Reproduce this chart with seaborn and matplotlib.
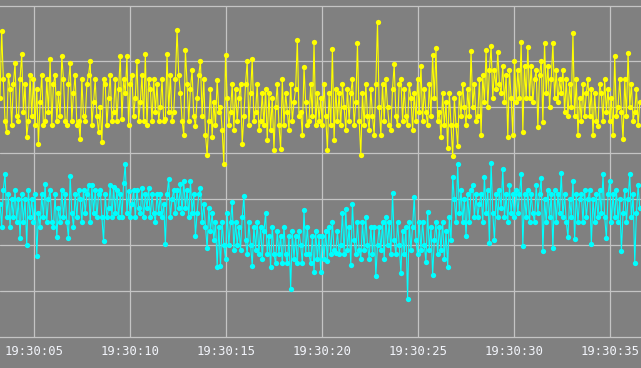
"""Two noisy sensor traces (yellow / cyan) on a gray scope-style panel."""

import pandas as pd
import matplotlib
import matplotlib.pyplot as plt
import matplotlib.dates as mdates
import seaborn as sns

matplotlib.use("Agg")

# --- data (one sample every 87 ms) -----------------------------------------
START = "2024-01-01 19:30:03.230"
STEP = "87ms"

yellow = [
    52, 66.6, 56, 47, 44.5, 57, 54, 46, 55, 59.5, 48, 47,
    56, 61.5, 49, 55, 43.5, 47, 57, 48, 56, 46, 54, 42,
    51, 57, 46, 47, 56, 49, 60.5, 46, 55, 57, 47, 53,
    48, 61, 56, 47, 46, 55, 59.5, 47, 53, 57, 46, 47,
    43, 56, 48, 47, 55, 57, 60, 46, 51, 56, 48, 44.5,
    50, 42.5, 56, 55, 46, 52, 57, 47, 49, 56, 47, 54,
    61, 47.3, 56, 53, 61, 46, 55, 57, 48, 52, 60, 47,
    51, 57, 47, 61.5, 46, 56, 54, 47, 56, 49, 55, 47,
    50, 56, 47, 47.5, 61.5, 49, 57, 47, 49, 56, 66.7, 57,
    53, 47, 44, 62.4, 55, 47, 54, 58, 48, 45.8, 52, 57,
    60, 48, 56, 44, 39.6, 47, 54, 43.5, 51, 46, 55.9, 49,
    50, 45, 37.6, 61.3, 52, 46, 49, 55, 45, 54, 47, 52,
    55, 42, 48, 55, 60, 46, 53, 60.5, 47, 49, 55, 45,
    47, 53, 46, 54, 42.8, 53, 45, 52, 40.7, 50, 55, 46,
    40.9, 56, 46, 53, 49, 45, 55, 47, 51, 54, 64.6, 48,
    49, 44, 58.7, 51, 46, 47, 55, 48, 64.1, 46, 53, 47,
    52, 46, 55, 48, 40.7, 53, 46, 62.6, 42.8, 54, 47, 53,
    46, 55, 50, 45, 54, 47, 53, 56, 46, 51, 63.9, 47,
    39.6, 53, 46, 55, 48, 45, 54, 48, 44, 55, 68.5, 50,
    43.9, 55, 47, 56, 50, 46, 45, 54, 59.3, 48, 46, 55,
    56, 47, 54, 48, 46, 55, 52, 45, 53, 47, 56, 49,
    59, 47, 54, 49, 46, 55, 48, 61.3, 52, 62.8, 47, 49,
    43.5, 53, 46, 51, 41, 53, 46, 39.3, 52, 46, 41.5, 53,
    48, 55, 50, 46, 54, 48, 62.2, 50, 55, 47, 48, 56,
    44, 57, 51, 62.4, 50, 58, 63.2, 52, 58, 54, 62, 55,
    53, 59, 51, 57, 43.5, 58, 52, 44, 60, 51, 58, 52,
    64.1, 44.6, 59, 52, 63.1, 52, 59, 51, 56, 58, 45.6, 57,
    60, 46.7, 63.9, 53, 59, 50, 56, 63.9, 52, 58, 51, 56,
    53, 58, 49, 56, 48, 55, 50, 66, 48, 56, 43.9, 52,
    47, 55, 48, 53, 56, 48, 54, 43.9, 53, 47, 45.8, 55,
    53, 47, 56, 49, 54, 47, 52, 44, 61, 48, 50, 56,
    49, 43, 56, 48, 61.8, 50, 55, 47, 49, 54, 46, 51,
]

cyan = [
    29, 24, 32, 35.5, 26, 31, 24, 30, 26, 32, 25, 30,
    21.5, 31, 25, 30, 20, 32, 26, 30, 25, 31, 17.6, 27,
    24, 31, 26, 33.3, 25, 30, 32, 25, 24, 31, 21.7, 28,
    25, 32, 26, 31, 25, 21.5, 35, 27, 24, 31, 26, 32,
    30, 25, 32, 27, 31, 33, 25, 33, 27, 32, 26, 31,
    32, 26, 20.8, 31, 26, 28, 33, 26, 32.6, 27, 32, 26,
    31, 26, 33.5, 37.6, 27, 31.7, 26, 29, 32, 26, 32, 28,
    27, 32.4, 26, 31, 28, 32.4, 26, 31, 27, 25, 31, 27,
    31, 26, 29, 20.2, 31, 34.3, 26, 30, 32, 27, 32, 28,
    33.2, 27, 33.9, 28, 32, 26, 33.9, 27, 31, 22, 27, 31,
    32.4, 25, 29, 24, 19.3, 28, 23, 27, 21, 25, 15.2, 24,
    15.5, 25, 20, 17, 27, 20, 25, 29.3, 19, 25, 20, 24,
    19, 26, 30.6, 21, 18, 25, 20, 15.5, 24, 19, 25, 18,
    24, 17, 23, 26.9, 18, 22, 15.3, 24, 18, 16, 23, 18,
    22, 16, 24, 18, 16, 22, 10.5, 23, 17, 22, 16, 23,
    20, 16, 27.6, 18, 24, 18, 16, 22, 14.2, 23, 17, 22,
    14.2, 22, 17, 23, 16.5, 24, 18, 25, 19, 18.3, 23, 18,
    20, 27, 18, 27.8, 19, 24, 15.7, 29, 21, 18, 25, 19,
    17, 25, 19, 26, 20, 17, 24, 18, 24, 13.2, 20, 24,
    19, 25, 17, 26, 20, 25, 18, 31.3, 21, 18, 25, 20,
    13.9, 23, 18, 24, 8.3, 25, 19, 24, 30.4, 21, 18, 25,
    19, 25, 20, 16.3, 27.2, 19, 24, 13.5, 21, 25, 18, 24,
    19, 25, 17, 23, 15.2, 26, 21, 34.8, 30, 25, 37.6, 27,
    32, 25, 30, 21.9, 31, 25, 32, 33, 26, 31, 26, 29,
    31, 25, 34.8, 27, 32, 20.4, 37.8, 27, 21, 31, 26, 32,
    28, 36.5, 26, 31, 25, 33, 27, 31, 26, 32, 27, 31,
    35.4, 19.8, 31, 26, 32, 25, 31, 27, 25, 33, 27, 31,
    34.5, 18.7, 30, 25, 32, 26, 31, 19.3, 32, 25, 31, 27,
    35.7, 26, 31, 25, 21.7, 30, 26, 33.9, 21.3, 31, 25, 30,
    31, 25, 32, 26, 30, 32, 20.2, 30, 25, 31, 26, 32,
    27, 35.4, 26, 21.5, 31, 33.9, 25, 31, 26, 32, 25, 30,
    18.7, 27, 32, 25, 30, 35.4, 26, 31, 16.1, 27, 33, 28,
]

times = pd.date_range(start=START, periods=len(yellow), freq=STEP)
df = pd.DataFrame({"time": times, "yellow": yellow, "cyan": cyan})

BG = "#808080"
GRID = "#c4c4c4"

sns.set_theme(style="darkgrid", rc={
    "axes.facecolor": BG,
    "figure.facecolor": BG,
    "grid.color": GRID,
    "grid.linewidth": 0.9,
})

fig = plt.figure(figsize=(6.41, 3.68), dpi=100)
ax = fig.add_axes([0, 31 / 368, 1, 1 - 37 / 368])

for col, color in (("yellow", "#ffff00"), ("cyan", "#00ffff")):
    sns.lineplot(
        data=df, x="time", y=col, ax=ax, color=color,
        linewidth=0.8, marker="o", markersize=3.8, markeredgewidth=0,
    )

ax.set_xlim(pd.Timestamp(START), pd.Timestamp(START) + pd.Timedelta(seconds=641 / 19.2))
ax.set_ylim(0, 331 / 4.6)
ax.set_yticks([10, 20, 30, 40, 50, 60])
ax.set_yticklabels([])
ax.xaxis.set_major_locator(mdates.SecondLocator(bysecond=range(0, 60, 5)))
ax.xaxis.set_major_formatter(mdates.DateFormatter("%H:%M:%S"))
ax.tick_params(axis="x", length=0, pad=6, labelsize=8.8, labelcolor="#f2f4fa")
ax.tick_params(axis="y", length=0)
for lab in ax.get_xticklabels():
    lab.set_family("DejaVu Sans Mono")
ax.set_xlabel("")
ax.set_ylabel("")

for side in ("left", "right"):
    ax.spines[side].set_visible(False)
for side in ("top", "bottom"):
    ax.spines[side].set_visible(True)
    ax.spines[side].set_color(GRID)
    ax.spines[side].set_linewidth(0.9)

fig.savefig("out.png", dpi=100, facecolor=BG)
plt.close(fig)
